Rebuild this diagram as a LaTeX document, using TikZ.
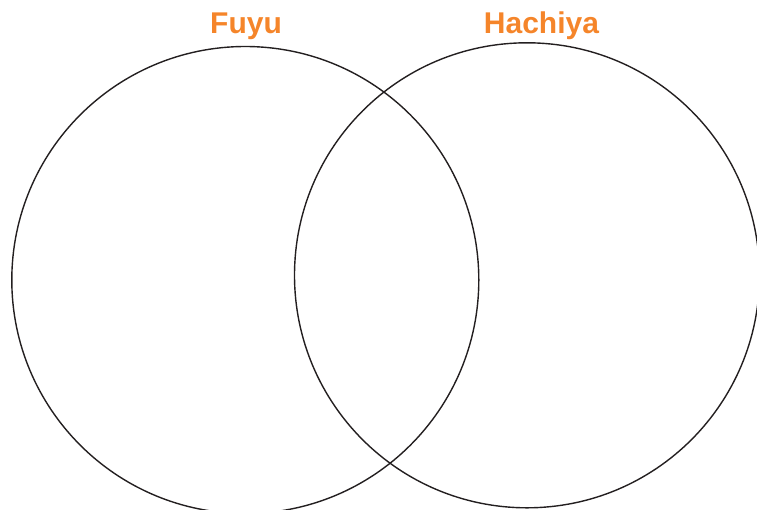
\documentclass[tikz,border=0pt]{standalone}
\usepackage{fontspec}
\setmainfont{Liberation Sans}
\definecolor{persimmon}{HTML}{F5852A}
\definecolor{rim}{HTML}{231F20}

\begin{document}
\begin{tikzpicture}
[x=1pt, y=-1pt, every node/.style={inner sep=0pt}]
\useasboundingbox (0,0) rectangle (757,509);
\node (fuyuset) [circle, minimum size=467pt, line width=1.4pt, draw=rim] at (245.3, 280.0) {};
\node (hachiyaset) [circle, minimum size=465pt, line width=1.4pt, draw=rim] at (527.0, 275.3) {};
\node (fuyu) [anchor=base, text=persimmon, font=\fontsize{30}{36}\selectfont\bfseries] at (246.0, 33.3) {Fuyu};
\node (hachiya) [anchor=base, text=persimmon, font=\fontsize{30}{36}\selectfont\bfseries] at (541.5, 33.3) {Hachiya};
\end{tikzpicture}
\end{document}
